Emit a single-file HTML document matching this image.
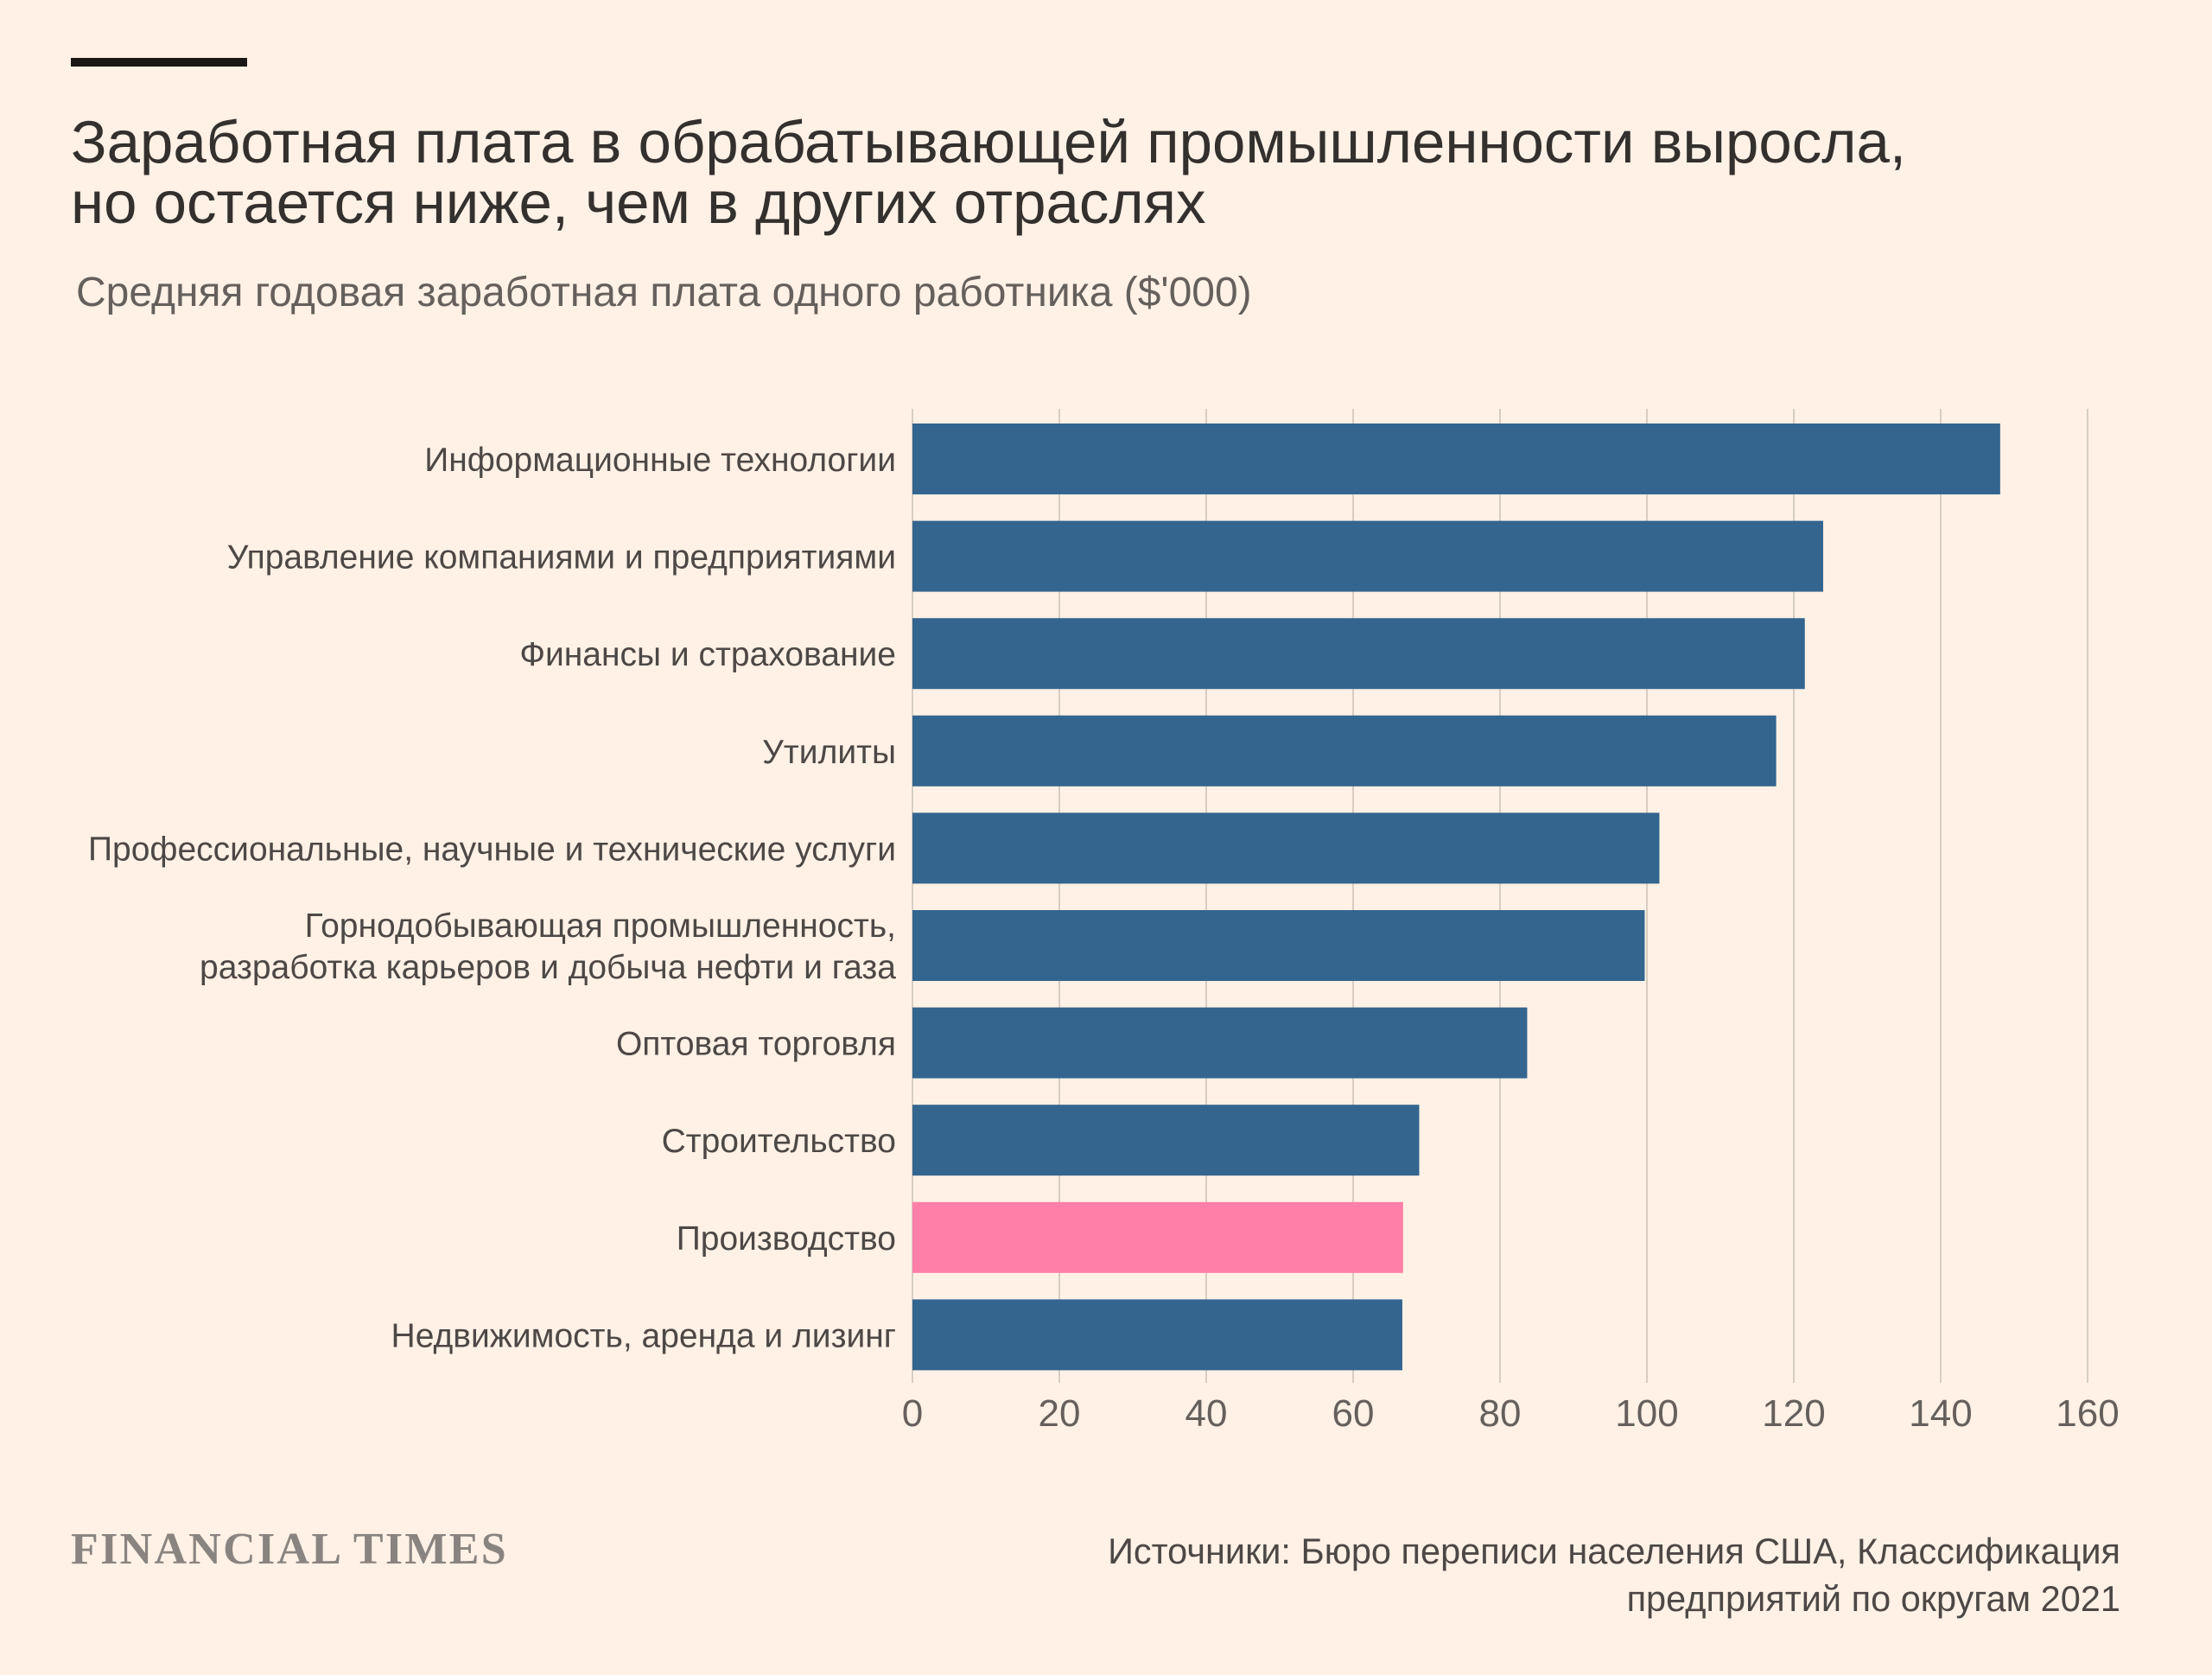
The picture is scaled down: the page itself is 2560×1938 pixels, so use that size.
<!DOCTYPE html>
<html><head><meta charset="utf-8">
<style>
html,body{margin:0;padding:0;background:#fff1e5;}
body{width:2560px;height:1933px;position:relative;overflow:hidden;font-family:"Liberation Sans","DejaVu Sans",sans-serif;}
</style></head>
<body>
<svg width="2560" height="1933" viewBox="0 0 2560 1933" xmlns="http://www.w3.org/2000/svg">
<rect x="0" y="0" width="2560" height="1933" fill="#fff1e5"/>
<rect x="82" y="67" width="204" height="10" fill="#1a1817"/>
<text x="82" y="188" font-size="69" fill="#33302e">Заработная плата в обрабатывающей промышленности выросла,</text>
<text x="82" y="258" font-size="69" fill="#33302e">но остается ниже, чем в других отраслях</text>
<text x="88" y="354" font-size="48" fill="#66605c">Средняя годовая заработная плата одного работника ($'000)</text>
<g id="grid"></g>
<g id="bars"></g>
<g id="labels"></g>
<g id="ticks"></g>
<text x="82" y="1809" font-size="52" font-weight="bold" fill="#8a8480" font-family="Liberation Serif, serif" letter-spacing="2.3">FINANCIAL TIMES</text>
<text x="2454" y="1809" font-size="41.5" fill="#4d4845" text-anchor="end">Источники: Бюро переписи населения США, Классификация</text>
<text x="2454" y="1864" font-size="41.5" fill="#4d4845" text-anchor="end">предприятий по округам 2021</text>
</svg>
<script>
const categories = [
 ["Информационные технологии"],
 ["Управление компаниями и предприятиями"],
 ["Финансы и страхование"],
 ["Утилиты"],
 ["Профессиональные, научные и технические услуги"],
 ["Горнодобывающая промышленность,","разработка карьеров и добыча нефти и газа"],
 ["Оптовая торговля"],
 ["Строительство"],
 ["Производство"],
 ["Недвижимость, аренда и лизинг"]
];
const values = [148.1, 124, 121.5, 117.6, 101.7, 99.7, 83.7, 69, 66.8, 66.7];
const highlight = [false,false,false,false,false,false,false,false,true,false];
const ticks = [0,20,40,60,80,100,120,140,160];

const NS="http://www.w3.org/2000/svg";
const x0=1056, pxPerUnit=8.5, y0=490, pitch=112.6, barH=82;
const xScale=v=>x0+v*pxPerUnit;
const yScale=i=>y0+i*pitch;
function mk(tag,attrs){const e=document.createElementNS(NS,tag);for(const k in attrs)e.setAttribute(k,attrs[k]);return e;}
const grid=document.getElementById('grid'),bars=document.getElementById('bars'),labels=document.getElementById('labels'),tk=document.getElementById('ticks');
ticks.forEach(t=>{
 const l=mk('line',{x1:xScale(t),x2:xScale(t),y1:473,y2:1600,stroke:'#d8cdc3','stroke-width':2});
 
 
 grid.appendChild(l);
 const tx=mk('text',{x:xScale(t),y:1650,'font-size':44,fill:'#66605c','text-anchor':'middle'});
 tx.textContent=t;
 
 
 tk.appendChild(tx);
});
values.forEach((v,i)=>{
 const r=mk('rect',{x:x0,y:yScale(i),width:xScale(v)-x0,height:barH,fill:highlight[i]?'#ff7fa8':'#33658f'});
 
 
 bars.appendChild(r);
 const lines=categories[i];
 const cy=yScale(i)+barH/2;
 lines.forEach((s,j)=>{
  const yy=cy+14+(j-(lines.length-1)/2)*48;
  const t=mk('text',{x:1037,y:yy,'font-size':39,fill:'#4d4845','text-anchor':'end'});
  t.textContent=s;
  
  
  labels.appendChild(t);
 });
});
</script>
</body></html>
